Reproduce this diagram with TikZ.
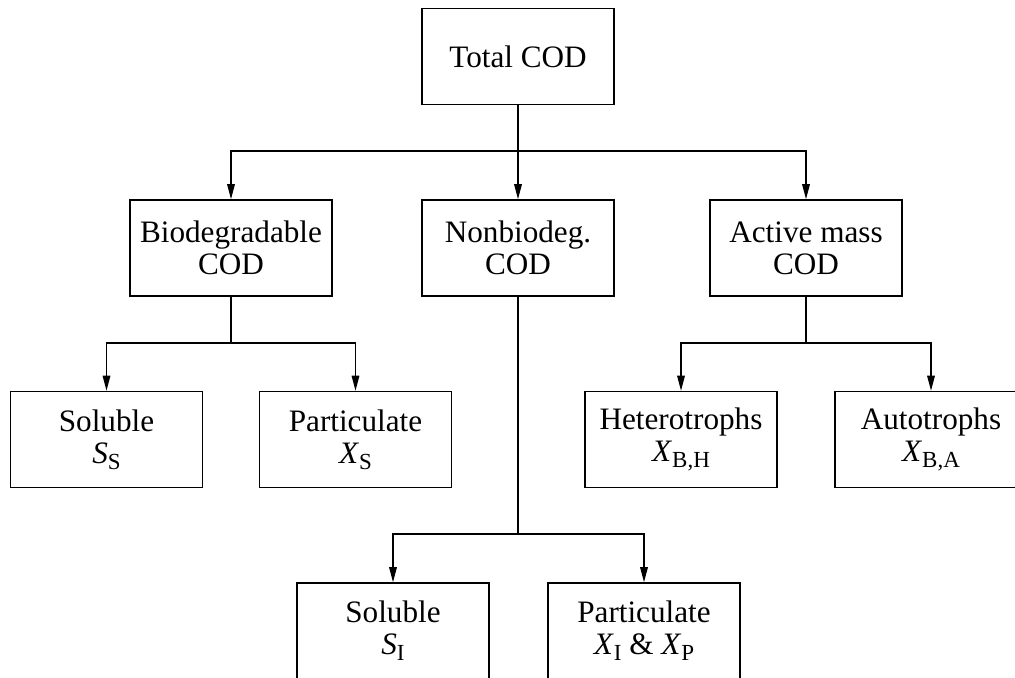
\documentclass[tikz,border=0pt]{standalone}
\usepackage{fontspec}
\setmainfont{Liberation Serif}
\usetikzlibrary{arrows.meta}
\newcommand{\codvar}[2]{\textit{#1}\raisebox{-0.4ex}{\fontsize{11.5}{11.5}\selectfont #2}}
\tikzset{
box/.style={draw,line width=0.8pt,minimum width=96pt,minimum height=48pt,inner xsep=5pt,align=center,font=\fontsize{15.6}{16}\selectfont},
link/.style={line width=0.65pt},
feed/.style={link,-{Triangle[length=7.5pt,width=3.8pt]}}
}
\begin{document}
\begin{tikzpicture}[x=0.5pt,y=-0.5pt]
\useasboundingbox(0,0) rectangle (1015,677);
\clip(0,0) rectangle (1015,677);
% boxes
\node[box](total) at (518,56.5) {Total COD};
\node[box](bio) at (231,248) {Biodegradable\\COD};
\node[box](non) at (518,248) {Nonbiodeg.\\COD};
\node[box](act) at (806,248) {Active mass\\COD};
\node[box](ss) at (106.5,439.5) {Soluble\\\codvar{S}{S}};
\node[box](xs) at (355.5,439.5) {Particulate\\\codvar{X}{S}};
\node[box](xbh) at (681,439.5) {Heterotrophs\\\codvar{X}{B,H}};
\node[box](xba) at (931,439.5) {Autotrophs\\\codvar{X}{B,A}};
\node[box](si) at (393,631) {Soluble\\\codvar{S}{I}};
\node[box](xip) at (644,631) {Particulate\\\codvar{X}{I} \& \codvar{X}{P}};
% branch points
\coordinate(j1) at (518,151);
\coordinate(j2) at (231,343);
\coordinate(j3) at (806,343);
\coordinate(j4) at (518,534);
% connectors
\draw[link](total)--(j1);
\draw[feed](j1)-|(bio);
\draw[feed](j1)--(non);
\draw[feed](j1)-|(act);
\draw[link](bio)--(j2);
\draw[feed](j2)-|(ss);
\draw[feed](j2)-|(xs);
\draw[link](act)--(j3);
\draw[feed](j3)-|(xbh);
\draw[feed](j3)-|(xba);
\draw[link](non)--(j4);
\draw[feed](j4)-|(si);
\draw[feed](j4)-|(xip);
\end{tikzpicture}
\end{document}
